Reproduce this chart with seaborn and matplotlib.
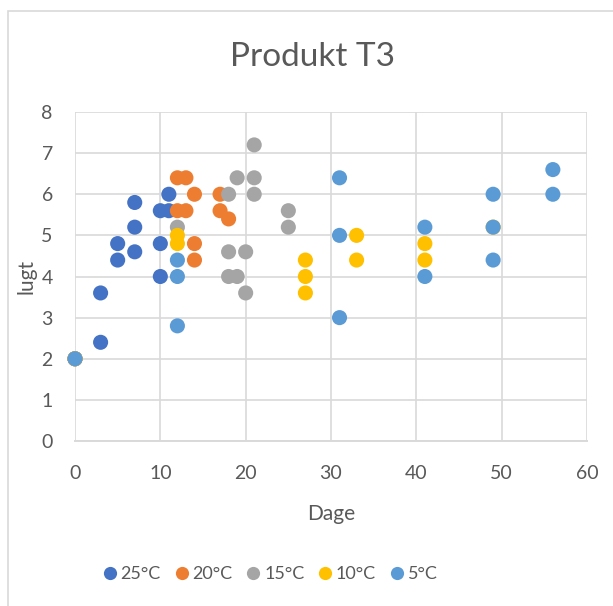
import matplotlib
matplotlib.use("Agg")
import matplotlib.pyplot as plt
from matplotlib.patches import Rectangle
import pandas as pd
import seaborn as sns

# Storage temperatures and their measurements (days, odour score)
series_names = ["25°C", "20°C", "15°C", "10°C", "5°C"]
series_colors = ["#4472C4", "#ED7D31", "#A5A5A5", "#FFC000", "#5B9BD5"]

days_25 = [0, 3, 3, 5, 5, 7, 7, 7, 10, 10, 10, 11, 11]
lugt_25 = [2.0, 2.4, 3.6, 4.8, 4.4, 5.8, 5.2, 4.6, 4.8, 4.0, 5.6, 5.6, 6.0]

days_20 = [0, 12, 13, 14, 12, 13, 14, 14, 17, 17, 18]
lugt_20 = [2.0, 6.4, 6.4, 6.0, 5.6, 5.6, 4.8, 4.4, 6.0, 5.6, 5.4]

days_15 = [0, 21, 19, 21, 18, 21, 12, 18, 20, 18, 19, 20, 25, 25]
lugt_15 = [2.0, 7.2, 6.4, 6.4, 6.0, 6.0, 5.2, 4.6, 4.6, 4.0, 4.0, 3.6, 5.6, 5.2]

days_10 = [0, 12, 12, 27, 27, 27, 33, 33, 41, 41, 49]
lugt_10 = [2.0, 5.0, 4.8, 4.4, 4.0, 3.6, 5.0, 4.4, 4.8, 4.4, 5.2]

days_5 = [0, 12, 12, 12, 31, 31, 31, 41, 41, 49, 49, 49, 56, 56]
lugt_5 = [2.0, 4.4, 4.0, 2.8, 6.4, 5.0, 3.0, 5.2, 4.0, 6.0, 5.2, 4.4, 6.6, 6.0]

x_ticks = [0, 10, 20, 30, 40, 50, 60]
y_ticks = [0, 1, 2, 3, 4, 5, 6, 7, 8]

frames = []
for name, d, v in zip(series_names,
                      [days_25, days_20, days_15, days_10, days_5],
                      [lugt_25, lugt_20, lugt_15, lugt_10, lugt_5]):
    frames.append(pd.DataFrame({"Dage": d, "lugt": v, "Temperatur": name}))
df = pd.concat(frames, ignore_index=True)

sns.set_theme(style="white")
plt.rcParams["font.family"] = ["Lato", "DejaVu Sans"]

text_color = "#595959"
grid_color = "#D9D9D9"

fig = plt.figure(figsize=(6.13, 6.06), dpi=100)
ax = fig.add_axes([75 / 613, 1 - 441 / 606, 512 / 613, 329 / 606])

sns.scatterplot(data=df, x="Dage", y="lugt", hue="Temperatur",
                hue_order=series_names, palette=series_colors,
                s=118, linewidth=0, alpha=1, ax=ax, legend=False,
                zorder=3, clip_on=False)

ax.set_xlim(0, 60)
ax.set_ylim(0, 8)
ax.set_xticks(x_ticks)
ax.set_yticks(y_ticks)
ax.grid(True, color=grid_color, linewidth=1.2, zorder=0)
ax.set_axisbelow(True)
for side in ["top", "right", "left"]:
    ax.spines[side].set_visible(False)
ax.spines["bottom"].set_color(grid_color)
ax.spines["bottom"].set_linewidth(1.4)
ax.tick_params(axis="both", length=0, labelsize=14, colors=text_color)
ax.tick_params(axis="x", pad=17)
ax.tick_params(axis="y", pad=16)
for lab in ax.get_xticklabels() + ax.get_yticklabels():
    lab.set_color(text_color)

ax.set_xlabel("Dage", fontsize=15, color=text_color)
ax.set_ylabel("lugt", fontsize=15, color=text_color)
ax.xaxis.set_label_coords(0.5, -0.192)
ax.yaxis.set_label_coords(-0.076, 0.5)

fig.text(313 / 613, 1 - 57 / 606, "Produkt T3", fontsize=24,
         color=text_color, ha="center", va="center")

handles = [plt.Line2D([], [], marker="o", linestyle="", markersize=9.5,
                      markerfacecolor=c, markeredgewidth=0)
           for c in series_colors]
fig.legend(handles, series_names, loc="center", ncol=5,
           bbox_to_anchor=(270 / 613, 1 - 574 / 606), frameon=False,
           fontsize=13, labelcolor=text_color, handletextpad=0.2,
           columnspacing=0.75, handlelength=0.8)

# chart frame
fig.add_artist(Rectangle((8 / 613, -0.05), 1.2, 1 - 11 / 606 + 0.05,
                         transform=fig.transFigure, fill=False,
                         edgecolor=grid_color, linewidth=1.2))

fig.savefig("out.png", dpi=100, facecolor="white")
